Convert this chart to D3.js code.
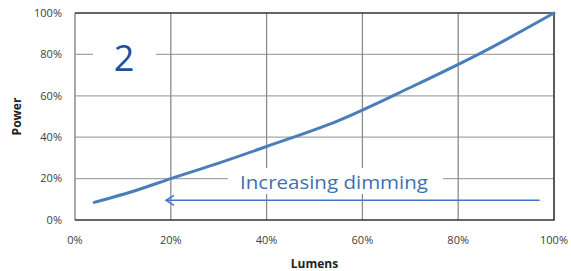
<!DOCTYPE html>
<html>
<head>
<meta charset="utf-8">
<script src="https://cdn.jsdelivr.net/npm/d3@7"></script>
<style>
  body { margin: 0; background: #fff; }
  text { font-family: "Open Sans", "Liberation Sans", sans-serif; }
</style>
</head>
<body>
<div id="chart"></div>
<script>
// data (percent)
var lumens = [4, 13, 20, 30, 40, 55, 70, 85, 100];
var power  = [8.5, 14.5, 20, 27.5, 35.5, 48, 64, 81, 100];
var xTicks = [0, 20, 40, 60, 80, 100];
var yTicks = [0, 20, 40, 60, 80, 100];
var arrowFrom = 97, arrowTo = 19, arrowAt = 9.5;   // arrow runs right to left

var width = 571, height = 271,
    margin = {top: 13, right: 17, bottom: 51, left: 75};

var svg = d3.select('#chart').append('svg')
  .attr('width', width)
  .attr('height', height);

var x = d3.scaleLinear().domain([0, 100]).range([margin.left, width - margin.right]);
var y = d3.scaleLinear().domain([0, 100]).range([height - margin.bottom, margin.top]);

// grid
svg.append('g').selectAll('line').data(yTicks.slice(1, -1)).enter().append('line')
  .attr('x1', x(0)).attr('x2', x(100))
  .attr('y1', function(d) { return y(d); }).attr('y2', function(d) { return y(d); })
  .attr('stroke', '#a6a6a6').attr('stroke-width', 1.3);

svg.append('g').selectAll('line').data(xTicks.slice(1, -1)).enter().append('line')
  .attr('y1', y(0)).attr('y2', y(100))
  .attr('x1', function(d) { return x(d); }).attr('x2', function(d) { return x(d); })
  .attr('stroke', '#8c8c8c').attr('stroke-width', 1.3);

// frame
svg.append('line').attr('x1', x(0)).attr('x2', x(0)).attr('y1', y(0)).attr('y2', y(100))
  .attr('stroke', '#8c8c8c').attr('stroke-width', 1.5);
svg.append('path')
  .attr('d', 'M' + x(0) + ',' + y(100) + 'H' + x(100) + 'V' + y(0) + 'H' + x(0))
  .attr('fill', 'none').attr('stroke', '#333').attr('stroke-width', 1.6);

// tick labels
svg.append('g').selectAll('text').data(yTicks).enter().append('text')
  .attr('x', margin.left - 13)
  .attr('y', function(d) { return y(d); })
  .attr('dy', '0.35em')
  .attr('text-anchor', 'end')
  .attr('font-size', '11px')
  .attr('fill', '#404040')
  .text(function(d) { return d + '%'; });

svg.append('g').selectAll('text').data(xTicks).enter().append('text')
  .attr('x', function(d) { return x(d); })
  .attr('y', y(0) + 24)
  .attr('text-anchor', 'middle')
  .attr('font-size', '11px')
  .attr('fill', '#404040')
  .text(function(d) { return d + '%'; });

// axis titles
svg.append('text')
  .attr('x', x(50)).attr('y', 268)
  .attr('text-anchor', 'middle')
  .attr('font-size', '12px').attr('font-weight', 'bold').attr('fill', '#222')
  .text('Lumens');

svg.append('text')
  .attr('transform', 'translate(21,' + y(50) + ') rotate(-90)')
  .attr('text-anchor', 'middle')
  .attr('font-size', '12px').attr('font-weight', 'bold').attr('fill', '#222')
  .text('Power');

// "2" label box
svg.append('rect').attr('x', 93).attr('y', 30).attr('width', 63).attr('height', 50).attr('fill', '#fff');
svg.append('text')
  .attr('x', 124).attr('y', 71)
  .attr('text-anchor', 'middle')
  .attr('font-size', '36px').attr('fill', '#1f4e9c')
  .text('2');

// curve
var line = d3.line()
  .x(function(d) { return x(d[0]); })
  .y(function(d) { return y(d[1]); })
  .curve(d3.curveMonotoneX);

svg.append('path')
  .datum(d3.zip(lumens, power))
  .attr('d', line)
  .attr('fill', 'none')
  .attr('stroke', '#4a7ebb')
  .attr('stroke-width', 3)
  .attr('stroke-linecap', 'round');

// dimming note
svg.append('rect').attr('x', 228).attr('y', 168).attr('width', 215).attr('height', 26).attr('fill', '#fff');
svg.append('text')
  .attr('x', 240).attr('y', 189)
  .attr('font-size', '19px').attr('fill', '#3f6fb0')
  .attr('textLength', 188).attr('lengthAdjust', 'spacingAndGlyphs')
  .text('Increasing dimming');

// arrow
var ay = y(arrowAt);
svg.append('line')
  .attr('x1', x(arrowFrom)).attr('x2', x(arrowTo))
  .attr('y1', ay).attr('y2', ay)
  .attr('stroke', '#4472c4').attr('stroke-width', 1.5);
svg.append('path')
  .attr('d', 'M' + (x(arrowTo) + 8) + ',' + (ay - 5) + 'L' + x(arrowTo) + ',' + ay + 'L' + (x(arrowTo) + 8) + ',' + (ay + 5))
  .attr('fill', 'none').attr('stroke', '#4472c4').attr('stroke-width', 1.5);
</script>
</body>
</html>
